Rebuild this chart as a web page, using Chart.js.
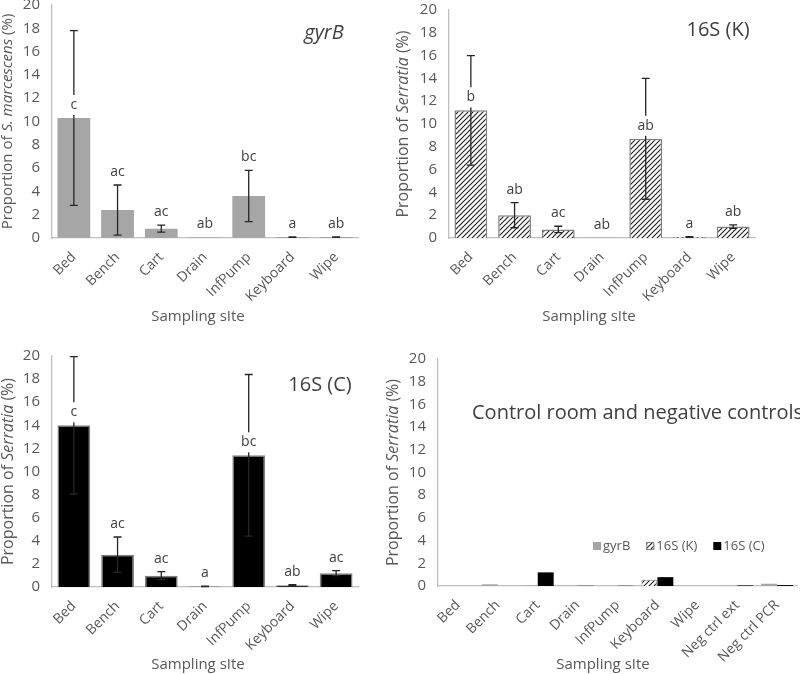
<!DOCTYPE html>
<html>
<head>
<meta charset="utf-8">
<script src="https://cdn.jsdelivr.net/npm/chart.js@4.4.1/dist/chart.umd.min.js"></script>
<style>
  body { margin: 0; background: #fff; width: 800px; height: 674px; position: relative; overflow: hidden; }
  canvas { position: absolute; }
</style>
</head>
<body>
<canvas id="p1" width="390" height="335" style="left:0;top:0"></canvas>
<canvas id="p2" width="410" height="335" style="left:390px;top:0"></canvas>
<canvas id="p3" width="380" height="339" style="left:0;top:335px"></canvas>
<canvas id="p4" width="420" height="339" style="left:380px;top:335px"></canvas>
<script>
// sites for the three main panels
const sites = ['Bed', 'Bench', 'Cart', 'Drain', 'InfPump', 'Keyboard', 'Wipe'];
// control panel adds the negative controls
const ctrlSites = ['Bed', 'Bench', 'Cart', 'Drain', 'InfPump', 'Keyboard', 'Wipe', 'Neg ctrl ext', 'Neg ctrl PCR'];

// means and error bars (%)
const gyrbVals = [10.3, 2.4, 0.8, 0.05, 3.6, 0.08, 0.08];
const gyrbErr  = [7.5, 2.15, 0.3, 0, 2.2, 0.02, 0.02];
const gyrbLetters = ['c', 'ac', 'ac', 'ab', 'bc', 'a', 'ab'];

const k16Vals = [11.2, 2.0, 0.75, 0.02, 8.7, 0.08, 1.0];
const k16Err  = [4.8, 1.1, 0.28, 0, 5.3, 0.03, 0.15];
const k16Letters = ['b', 'ab', 'ac', 'ab', 'ab', 'a', 'ab'];

const c16Vals = [14.0, 2.8, 0.98, 0.05, 11.4, 0.15, 1.2];
const c16Err  = [5.95, 1.53, 0.35, 0.02, 7.0, 0.05, 0.22];
const c16Letters = ['c', 'ac', 'ac', 'a', 'bc', 'ab', 'ac'];

// control room and negative controls
const ctrlGyrb = [0, 0.15, 0.05, 0.02, 0, 0, 0, 0.02, 0.2];
const ctrlK16  = [0, 0, 0, 0, 0, 0.55, 0, 0, 0];
const ctrlC16  = [0, 0, 1.2, 0.02, 0.02, 0.78, 0, 0.05, 0.08];

const yTicks = [0, 2, 4, 6, 8, 10, 12, 14, 16, 18, 20];

const FONT = "'Open Sans', sans-serif";
const GREY = '#a6a6a6';
const TXT = '#595959';

function hatch() {
  const c = document.createElement('canvas');
  c.width = 5; c.height = 5;
  const g = c.getContext('2d');
  g.fillStyle = '#fff';
  g.fillRect(0, 0, 5, 5);
  g.strokeStyle = '#262626';
  g.lineWidth = 1.2;
  g.beginPath();
  g.moveTo(0, 5); g.lineTo(5, 0);
  g.moveTo(-1, 1); g.lineTo(1, -1);
  g.moveTo(4, 6); g.lineTo(6, 4);
  g.stroke();
  return g.createPattern(c, 'repeat');
}
const HATCH = hatch();

function yTitle(ctx, parts, size, x, cy) {
  ctx.save();
  ctx.translate(x, cy);
  ctx.rotate(-Math.PI / 2);
  ctx.fillStyle = TXT;
  ctx.textBaseline = 'middle';
  ctx.textAlign = 'left';
  let total = 0;
  parts.forEach(p => { ctx.font = (p[1] ? 'italic ' : '') + size + 'px ' + FONT; total += ctx.measureText(p[0]).width; });
  let px = -total / 2;
  parts.forEach(p => {
    ctx.font = (p[1] ? 'italic ' : '') + size + 'px ' + FONT;
    ctx.fillText(p[0], px, 0);
    px += ctx.measureText(p[0]).width;
  });
  ctx.restore();
}

const overlay = {
  id: 'overlay',
  afterDatasetsDraw(chart, args, o) {
    if (!o.errors) return;
    const ctx = chart.ctx, y = chart.scales.y;
    const meta = chart.getDatasetMeta(0);
    const vals = chart.data.datasets[0].data;
    ctx.save();
    ctx.strokeStyle = '#262626';
    ctx.lineWidth = 1.3;
    meta.data.forEach((bar, i) => {
      const e = o.errors[i];
      if (!e) return;
      const t = y.getPixelForValue(vals[i] + e);
      const b = y.getPixelForValue(Math.max(0, vals[i] - e));
      ctx.beginPath();
      ctx.moveTo(bar.x, t); ctx.lineTo(bar.x, b);
      ctx.moveTo(bar.x - 4, t); ctx.lineTo(bar.x + 4, t);
      ctx.moveTo(bar.x - 4, b); ctx.lineTo(bar.x + 4, b);
      ctx.stroke();
    });
    ctx.font = '14px ' + FONT;
    ctx.textAlign = 'center';
    ctx.textBaseline = 'middle';
    meta.data.forEach((bar, i) => {
      const e = o.errors[i] || 0;
      const ref = e > 3 ? vals[i] : vals[i] + e;
      const cy = y.getPixelForValue(ref) - 13;
      const w = ctx.measureText(o.letters[i]).width + 4;
      ctx.fillStyle = '#fff';
      ctx.fillRect(bar.x - w / 2, cy - 10, w, 20);
      ctx.fillStyle = '#404040';
      ctx.fillText(o.letters[i], bar.x, cy);
    });
    ctx.restore();
  },
  afterDraw(chart, args, o) {
    const ctx = chart.ctx;
    if (o.yTitle) yTitle(ctx, o.yTitle, o.yTitleSize, o.yTitleX, (chart.chartArea.top + chart.chartArea.bottom) / 2);
    ctx.save();
    ctx.fillStyle = TXT;
    ctx.textBaseline = 'middle';
    if (o.xTitle) {
      ctx.font = '15px ' + FONT;
      ctx.textAlign = 'center';
      ctx.fillText(o.xTitle, o.xTitlePos[0], o.xTitlePos[1]);
    }
    if (o.title) {
      ctx.font = (o.titleItalic ? 'italic ' : '') + o.titleSize + 'px ' + FONT;
      ctx.textAlign = o.titleAlign || 'center';
      ctx.fillStyle = '#404040';
      ctx.fillText(o.title, o.titlePos[0], o.titlePos[1]);
    }
    if (o.legend) {
      ctx.font = '13px ' + FONT;
      ctx.textAlign = 'left';
      let lx = o.legend[0];
      const ly = o.legend[1];
      chart.data.datasets.forEach(ds => {
        ctx.fillStyle = ds.backgroundColor;
        ctx.fillRect(lx, ly - 4, 8, 8);
        if (ds.borderWidth) {
          ctx.strokeStyle = ds.borderColor;
          ctx.lineWidth = 1;
          ctx.strokeRect(lx + 0.5, ly - 3.5, 7, 7);
        }
        ctx.fillStyle = TXT;
        ctx.fillText(ds.label, lx + 10, ly);
        lx += 10 + ctx.measureText(ds.label).width + 16;
      });
    }
    ctx.restore();
  }
};
Chart.register(overlay);

function makeChart(id, box, labels, datasets, extra, barOpts) {
  const cv = document.getElementById(id);
  return new Chart(cv, {
    type: 'bar',
    data: { labels: labels, datasets: datasets },
    options: {
      responsive: false,
      animation: false,
      layout: { padding: { left: 0, top: box.top, right: cv.width - box.right, bottom: 0 } },
      datasets: { bar: barOpts },
      scales: {
        x: {
          grid: { display: false, drawTicks: false },
          border: { display: true, color: '#bfbfbf', width: 1.3 },
          ticks: { color: TXT, font: { family: FONT, size: 14 }, minRotation: 45, maxRotation: 45, autoSkip: false, padding: 11 },
          afterFit: s => { s.height = cv.height - box.bottom; s.paddingLeft = 0; s.paddingRight = 0; }
        },
        y: {
          min: 0, max: 20, stacked: false,
          afterBuildTicks: s => { s.ticks = yTicks.map(v => ({ value: v })); },
          grid: { display: false, drawTicks: false },
          border: { display: true, color: '#bfbfbf', width: 1.3 },
          ticks: { color: TXT, font: { family: FONT, size: 15 }, padding: 12 },
          afterFit: s => { s.width = box.left; s.paddingTop = 0; s.paddingBottom = 0; }
        }
      },
      plugins: { legend: { display: false }, tooltip: { enabled: false }, overlay: extra }
    }
  });
}

const single = { categoryPercentage: 0.75, barPercentage: 1 };
const serratiaTitle = [['Proportion of ', false], ['Serratia', true], [' (%)', false]];

makeChart('p1', { left: 52, right: 358, top: 5, bottom: 238 }, sites,
  [{ label: 'gyrB', data: gyrbVals, backgroundColor: GREY, borderWidth: 0 }],
  { errors: gyrbErr, letters: gyrbLetters,
    yTitle: [['Proportion of ', false], ['S. marcescens', true], [' (%)', false]], yTitleSize: 15, yTitleX: 8,
    xTitle: 'Sampling sIte', xTitlePos: [198, 317],
    title: 'gyrB', titleItalic: true, titleSize: 20, titlePos: [324, 33] }, single);

makeChart('p2', { left: 59, right: 365, top: 10, bottom: 238 }, sites,
  [{ label: '16S (K)', data: k16Vals, backgroundColor: HATCH, borderColor: '#7f7f7f', borderWidth: 1.5 }],
  { errors: k16Err, letters: k16Letters,
    yTitle: serratiaTitle, yTitleSize: 16, yTitleX: 13,
    xTitle: 'Sampling sIte', xTitlePos: [199, 317],
    title: '16S (K)', titleSize: 20, titlePos: [328, 30] }, single);

makeChart('p3', { left: 52, right: 358, top: 21, bottom: 252 }, sites,
  [{ label: '16S (C)', data: c16Vals, backgroundColor: '#000', borderColor: '#7f7f7f', borderWidth: 1.5 }],
  { errors: c16Err, letters: c16Letters,
    yTitle: serratiaTitle, yTitleSize: 16, yTitleX: 8,
    xTitle: 'Sampling sIte', xTitlePos: [198, 330],
    title: '16S (C)', titleSize: 20, titlePos: [320, 50] }, single);

makeChart('p4', { left: 58, right: 417, top: 24, bottom: 251 }, ctrlSites,
  [
    { label: 'gyrB', data: ctrlGyrb, backgroundColor: GREY, borderWidth: 0, stack: 'a' },
    { label: '16S (K)', data: ctrlK16, backgroundColor: HATCH, borderColor: '#7f7f7f', borderWidth: 1, stack: 'a' },
    { label: '16S (C)', data: ctrlC16, backgroundColor: '#000', borderColor: '#000', borderWidth: 0, stack: 'b' }
  ],
  { yTitle: serratiaTitle, yTitleSize: 16, yTitleX: 13,
    xTitle: 'Sampling sIte', xTitlePos: [223, 330],
    title: 'Control room and negative controls', titleSize: 20, titleAlign: 'left', titlePos: [92, 78],
    legend: [213, 211] }, { categoryPercentage: 0.8, barPercentage: 1 });
</script>
</body>
</html>
